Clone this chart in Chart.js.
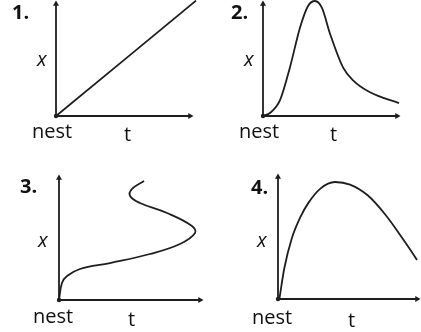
<!DOCTYPE html>
<html>
<head>
<meta charset="utf-8">
<script src="https://cdn.jsdelivr.net/npm/chart.js@4.4.1/dist/chart.umd.min.js"></script>
<style>
    body { margin: 0; background: #fff; }
    #wrap { position: relative; width: 421px; height: 332px; overflow: hidden; background: #fff; }
    #wrap canvas { position: absolute; }
    .lbl { position: absolute; font-family: "Open Sans", sans-serif; font-size: 20px; line-height: 20px; color: #111; white-space: nowrap; }
    .num { font-weight: 700; }
    .ital { font-style: italic; }
</style>
</head>
<body>
<div id="wrap">
    <canvas id="chart1" width="210" height="166" style="left:0px;top:0px"></canvas>
    <canvas id="chart2" width="211" height="166" style="left:210px;top:0px"></canvas>
    <canvas id="chart3" width="210" height="166" style="left:0px;top:166px"></canvas>
    <canvas id="chart4" width="211" height="166" style="left:210px;top:166px"></canvas>

    <span class="lbl num" style="left:12px;top:2px">1.</span>
    <span class="lbl ital" style="left:37px;top:49px">x</span>
    <span class="lbl" style="left:32px;top:121px">nest</span>
    <span class="lbl" style="left:124px;top:124px">t</span>

    <span class="lbl num" style="left:231px;top:2px">2.</span>
    <span class="lbl ital" style="left:244px;top:49px">x</span>
    <span class="lbl" style="left:239px;top:121px">nest</span>
    <span class="lbl" style="left:330px;top:124px">t</span>

    <span class="lbl num" style="left:20px;top:176px">3.</span>
    <span class="lbl ital" style="left:38px;top:230px">x</span>
    <span class="lbl" style="left:33px;top:306px">nest</span>
    <span class="lbl" style="left:128px;top:309px">t</span>

    <span class="lbl num" style="left:251px;top:177px">4.</span>
    <span class="lbl ital" style="left:257px;top:230px">x</span>
    <span class="lbl" style="left:252px;top:307px">nest</span>
    <span class="lbl" style="left:348px;top:310px">t</span>
</div>
<script>
'use strict';

// time (t) and distance from nest (x), axes run 0..10
let axisMax = 10;

let lineT = [0, 10.45];
let lineX = [0, 10.3];

let peakT = [0, 0.52, 1.27, 2.01, 2.76, 3.36, 3.88, 4.40, 5.0, 5.97, 6.72, 7.99, 10.15];
let peakX = [0, 0.27, 1.42, 4.34, 7.88, 9.82, 10.27, 9.65, 7.35, 4.34, 3.19, 2.12, 1.15];

let loopT = [0, 0.21, 0.57, 1.49, 3.62, 6.45, 8.58, 9.65, 9.43, 7.66, 5.74, 5.04, 5.18, 6.03];
let loopX = [0, 1.39, 1.97, 2.54, 3.03, 3.77, 4.59, 5.49, 6.07, 7.13, 7.95, 8.52, 9.10, 9.75];

let archT = [0.1, 0.45, 1.0, 1.6, 2.2, 3.05, 4.1, 5.18, 6.45, 7.7, 8.85, 10.0, 10.36];
let archX = [0, 2.5, 5.0, 6.7, 7.9, 9.05, 9.59, 9.38, 8.5, 6.95, 5.15, 3.2, 2.5];

let inkColor = '#1e1e1e';

function toPoints(tArr, xArr) {
    let pts = [];
    for (let i = 0; i < tArr.length; i++) {
        pts.push({ x: tArr[i], y: xArr[i] });
    }
    return pts;
}

function makePanel(id, tArr, xArr, padding, smoothMode) {
    let ctx = document.getElementById(id).getContext('2d');
    return new Chart(ctx, {
        type: 'scatter',
        data: {
            datasets: [{
                // the two axes, with arrow heads and the nest dot
                data: [{ x: 0, y: axisMax }, { x: 0, y: 0 }, { x: axisMax, y: 0 }],
                showLine: true,
                borderColor: inkColor,
                borderWidth: 1.8,
                backgroundColor: inkColor,
                pointStyle: ['triangle', 'circle', 'triangle'],
                pointRotation: [0, 0, 90],
                pointRadius: [3.5, 2.2, 3.5],
                pointBorderWidth: 0,
                tension: 0,
                clip: false
            }, {
                data: toPoints(tArr, xArr),
                showLine: true,
                borderColor: inkColor,
                borderWidth: 1.8,
                pointRadius: 0,
                tension: 0.4,
                cubicInterpolationMode: smoothMode,
                clip: false
            }]
        },
        options: {
            responsive: false,
            animation: false,
            layout: { padding: padding },
            plugins: { legend: { display: false }, tooltip: { enabled: false } },
            scales: {
                x: { type: 'linear', display: false, min: 0, max: axisMax },
                y: { type: 'linear', display: false, min: 0, max: axisMax }
            }
        }
    });
}

makePanel('chart1', lineT, lineX, { left: 56, top: 3, right: 20, bottom: 50 }, 'default');
makePanel('chart2', peakT, peakX, { left: 53, top: 3, right: 24, bottom: 50 }, 'monotone');
makePanel('chart3', loopT, loopX, { left: 59, top: 12, right: 10, bottom: 32 }, 'default');
makePanel('chart4', archT, archX, { left: 68, top: 11, right: 4, bottom: 33 }, 'monotone');
</script>
</body>
</html>
